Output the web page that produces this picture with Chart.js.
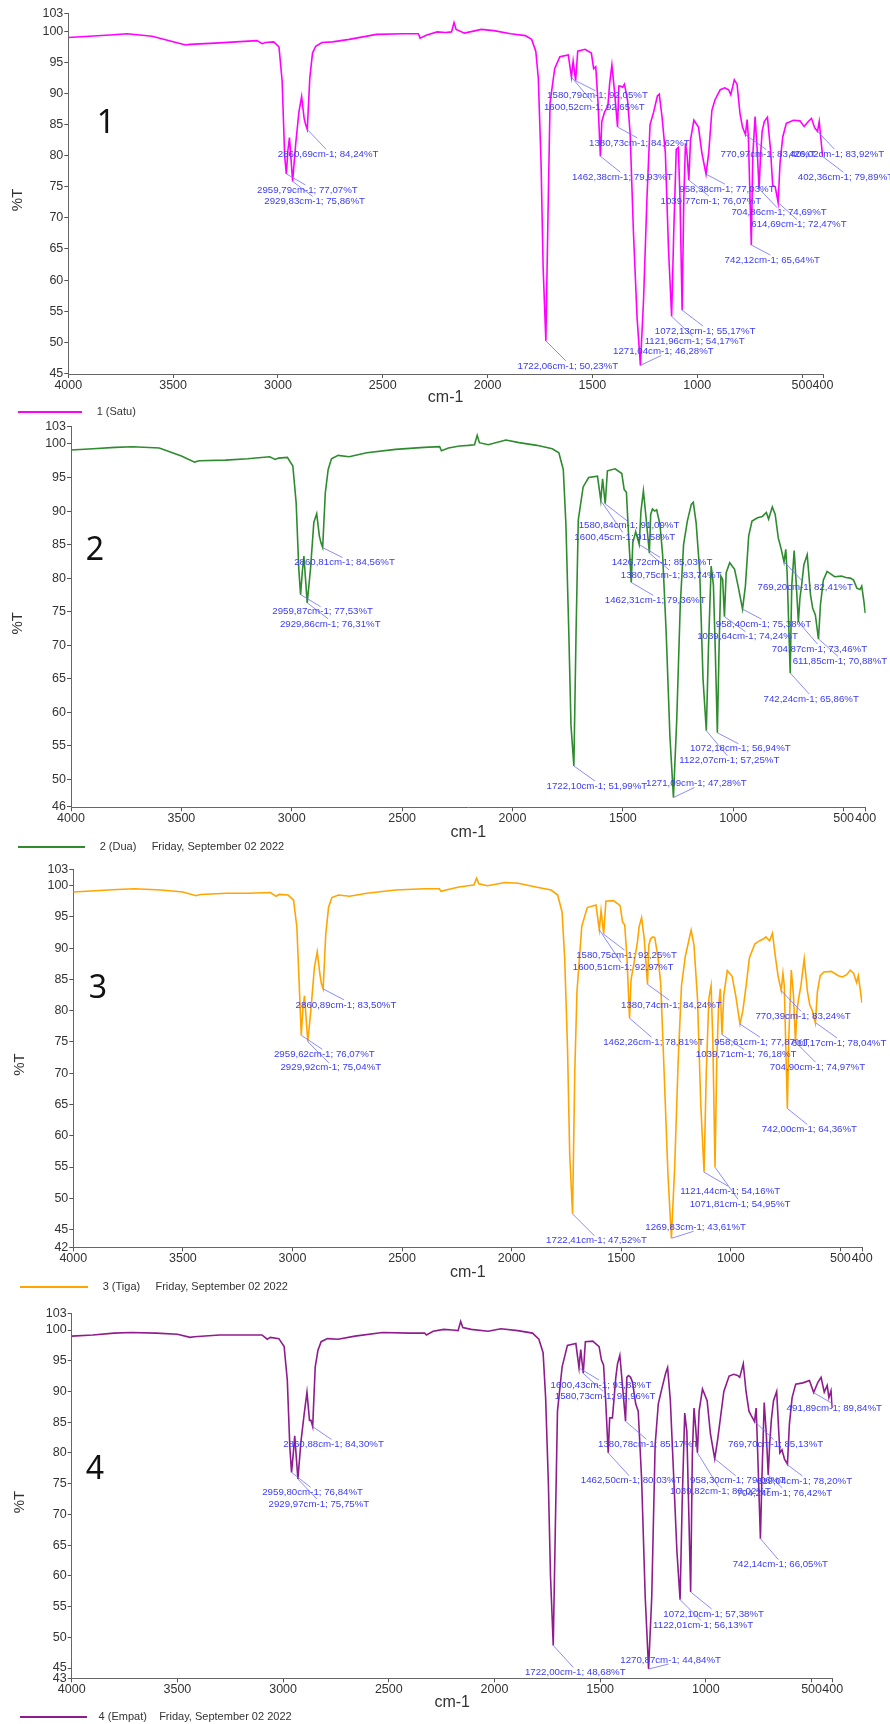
<!DOCTYPE html>
<html lang="id">
<head>
<meta charset="utf-8">
<title>Spektrum FTIR 1-4</title>
<script src="https://cdn.jsdelivr.net/npm/chart.js@4.4.1/dist/chart.umd.min.js"></script>
<style>
  html, body { margin: 0; padding: 0; background: #fff; overflow: hidden; }
  body { position: relative; width: 890px; height: 1724px; }
  canvas { position: absolute; left: 0; }
  .nomor { position: absolute; width: 40px; text-align: center; font-family: 'Noto Sans', sans-serif; font-size: 32px; line-height: 32px; color: #111; }
</style>
</head>
<body>
<canvas id="satu"></canvas>
<canvas id="dua"></canvas>
<canvas id="tiga"></canvas>
<canvas id="empat"></canvas>
<div class="nomor" style="left:86px;top:105px">1</div>
<div class="nomor" style="left:75px;top:532px">2</div>
<div class="nomor" style="left:78px;top:970px">3</div>
<div class="nomor" style="left:75px;top:1451px">4</div>
<script>
// wavenumbers (cm-1), the same grid for all four samples
const wavenumbers = [
  4000, 3900, 3800, 3720, 3600, 3500, 3440, 3420, 3300, 3200,
  3100, 3075, 3060, 3020, 2995, 2980, 2968, 2960, 2952, 2945,
  2930, 2915, 2900, 2887, 2875, 2868, 2860, 2848, 2835, 2820,
  2790, 2740, 2660, 2530, 2400, 2330, 2322, 2290, 2240, 2200,
  2172, 2160, 2150, 2110, 2030, 1970, 1890, 1820, 1790, 1770,
  1758, 1745, 1735, 1722, 1712, 1702, 1680, 1655, 1615, 1600,
  1592, 1580, 1570, 1535, 1505, 1494, 1484, 1474, 1462, 1455,
  1442, 1426, 1418, 1407, 1395, 1380, 1374, 1366, 1356, 1347,
  1332, 1320, 1304, 1287, 1271, 1256, 1240, 1225, 1208, 1190,
  1181, 1168, 1152, 1137, 1122, 1112, 1100, 1090, 1082, 1072,
  1064, 1056, 1048, 1040, 1032, 1016, 994, 978, 958, 945,
  930, 915, 890, 868, 850, 840, 823, 810, 796, 784,
  770, 762, 756, 742, 735, 724, 714, 705, 698, 690,
  680, 665, 650, 640, 628, 614, 605, 592, 575, 541,
  510, 490, 470, 455, 440, 426, 418, 408, 402
]

// %T, sample 1 (Satu)
const satu = [
  99.0, 99.2, 99.4, 99.6, 99.2, 98.3, 97.8, 97.9, 98.1, 98.3,
  98.5, 98.0, 98.2, 98.3, 97.5, 92.0, 80.0, 77.07, 81.0, 82.9,
  75.86, 82.0, 87.0, 89.5, 86.0, 85.0, 84.24, 92.5, 96.5, 97.6,
  98.2, 98.3, 98.7, 99.5, 99.6, 99.6, 98.9, 99.4, 99.9, 99.8,
  99.9, 101.4, 100.3, 99.7, 100.3, 100.1, 99.6, 99.3, 98.7, 96.8,
  92.5, 79.0, 62.0, 50.23, 70.0, 88.5, 94.0, 95.9, 96.2, 92.65,
  95.2, 92.05, 96.8, 97.1, 96.5, 94.0, 94.3, 89.0, 79.93, 85.5,
  87.0, 88.0, 91.5, 94.6, 90.5, 84.62, 91.2, 91.2, 91.0, 91.5,
  88.8, 83.6, 67.5, 54.0, 46.28, 56.8, 72.9, 85.0, 87.0, 89.6,
  89.9, 86.3, 80.5, 65.0, 54.17, 67.6, 81.0, 81.3, 72.9, 55.17,
  72.9, 82.0, 80.0, 76.07, 82.5, 85.7, 84.6, 80.5, 77.03, 80.5,
  87.3, 89.0, 90.6, 90.9, 90.6, 89.8, 92.2, 91.5, 86.8, 84.6,
  83.4, 85.8, 83.0, 65.64, 80.0, 86.3, 81.0, 74.69, 80.0, 84.0,
  85.5, 86.2, 80.8, 75.2, 75.0, 72.47, 78.8, 83.0, 85.2, 85.7,
  85.6, 84.7, 85.5, 86.0, 84.5, 83.92, 85.5, 82.0, 79.89
]

// %T, sample 2 (Dua)
const dua = [
  99.1, 99.3, 99.5, 99.6, 99.4, 98.2, 97.3, 97.5, 97.6, 97.8,
  98.1, 97.7, 97.9, 98.0, 96.7, 91.2, 81.3, 77.53, 81.0, 83.3,
  76.31, 81.4, 88.3, 89.6, 86.3, 85.3, 84.56, 92.7, 96.2, 97.8,
  98.3, 98.1, 98.7, 99.2, 99.5, 99.6, 99.0, 99.4, 99.7, 99.8,
  99.9, 101.3, 100.2, 99.9, 100.6, 100.2, 99.8, 99.3, 98.7, 96.2,
  88.0, 72.0, 58.0, 51.99, 72.0, 88.7, 93.6, 95.0, 95.2, 91.58,
  94.8, 91.09, 96.0, 96.3, 95.6, 93.2, 92.8, 86.3, 79.36, 85.3,
  86.9, 85.03, 90.0, 93.0, 89.0, 83.74, 89.5, 90.3, 90.0, 90.2,
  88.0, 83.5, 72.0, 56.5, 47.28, 58.9, 76.0, 85.0, 88.5, 91.0,
  91.3, 88.2, 81.0, 65.0, 57.25, 70.0, 81.8, 79.0, 70.0, 56.94,
  70.0, 80.3, 79.8, 74.24, 80.8, 82.3, 81.3, 78.8, 75.38, 78.8,
  86.3, 88.5, 89.0, 89.2, 89.8, 88.8, 90.6, 89.5, 86.0, 84.5,
  82.41, 84.3, 80.8, 65.86, 78.8, 84.1, 78.8, 73.46, 77.0, 79.0,
  82.0, 83.5, 77.5, 75.5, 74.5, 70.88, 76.0, 79.7, 81.0, 80.2,
  80.3, 80.1, 80.0, 79.7, 78.5, 78.3, 78.8, 76.5, 74.8
]

// %T, sample 3 (Tiga)
const tiga = [
  99.0, 99.2, 99.4, 99.5, 99.3, 99.0, 98.4, 98.6, 98.8, 98.8,
  98.9, 98.3, 98.6, 98.5, 97.7, 93.4, 83.2, 76.07, 80.5, 82.4,
  75.04, 80.5, 86.9, 89.4, 85.9, 84.3, 83.50, 92.3, 96.6, 98.1,
  98.5, 98.3, 98.8, 99.3, 99.5, 99.5, 99.1, 99.4, 99.8, 100.0,
  100.1, 101.2, 100.3, 100.0, 100.5, 100.4, 99.8, 99.3, 98.5, 95.8,
  88.5, 74.0, 57.0, 47.52, 70.0, 83.0, 93.5, 96.5, 96.9, 92.97,
  96.0, 92.25, 97.5, 97.6, 96.8, 94.2, 93.7, 88.6, 78.81, 85.0,
  87.5, 91.0, 93.5, 94.9, 91.5, 84.24, 90.5, 91.5, 91.8, 91.7,
  88.5, 84.5, 70.0, 54.0, 43.61, 55.0, 72.0, 84.0, 88.6, 91.5,
  92.9, 90.5, 82.0, 65.0, 54.16, 70.0, 82.0, 84.0, 75.3, 54.95,
  72.0, 80.5, 83.5, 76.18, 82.5, 86.4, 85.5, 82.5, 77.87, 80.0,
  84.0, 88.5, 90.7, 91.2, 91.5, 91.8, 91.2, 92.4, 88.5, 85.5,
  83.24, 86.0, 84.0, 64.36, 76.0, 86.5, 82.5, 74.97, 80.1, 82.0,
  84.0, 88.3, 83.0, 81.0, 80.0, 78.04, 83.0, 85.6, 86.2, 86.3,
  85.6, 85.4, 85.8, 86.5, 86.0, 84.5, 85.6, 83.0, 81.3
]

// %T, sample 4 (Empat)
const empat = [
  99.0, 99.2, 99.5, 99.6, 99.5, 99.3, 98.8, 98.9, 99.2, 99.2,
  99.2, 98.5, 98.8, 98.6, 97.3, 91.8, 80.9, 76.84, 79.8, 82.8,
  75.75, 82.0, 86.4, 89.9, 85.3, 85.3, 84.30, 94.0, 96.7, 98.1,
  98.6, 98.5, 99.0, 99.6, 99.5, 99.5, 99.2, 99.8, 100.1, 100.0,
  99.9, 101.4, 100.4, 100.1, 99.8, 100.2, 99.9, 99.5, 98.5, 96.3,
  89.0, 75.0, 60.0, 48.68, 68.0, 86.8, 94.0, 97.5, 97.8, 93.83,
  96.8, 92.96, 98.1, 98.2, 97.3, 95.1, 94.3, 88.5, 80.03, 85.7,
  85.7, 92.3, 94.5, 95.9, 91.2, 85.17, 92.3, 92.6, 92.3, 91.5,
  88.0, 86.8, 75.8, 56.6, 44.84, 56.6, 81.3, 88.0, 90.5, 93.0,
  93.9, 88.5, 76.0, 64.0, 56.13, 72.0, 86.5, 83.5, 72.0, 57.38,
  79.8, 87.3, 84.0, 80.02, 86.8, 90.4, 88.5, 83.0, 79.06, 82.0,
  86.0, 90.0, 92.5, 92.8, 92.6, 92.3, 94.5, 90.0, 86.8, 86.0,
  85.13, 87.3, 81.3, 66.05, 75.8, 88.2, 83.0, 76.42, 81.5, 85.5,
  88.5, 90.0, 80.0, 80.5, 79.0, 78.2, 84.6, 89.0, 91.2, 91.4,
  91.8, 89.84, 91.5, 92.3, 89.9, 91.0, 89.0, 90.1, 87.3
]

const xTicks = [4000, 3500, 3000, 2500, 2000, 1500, 1000, 500, 400]
const yTicks1 = [45, 50, 55, 60, 65, 70, 75, 80, 85, 90, 95, 100, 103]
const yTicks2 = [46, 50, 55, 60, 65, 70, 75, 80, 85, 90, 95, 100, 103]
const yTicks3 = [42, 45, 50, 55, 60, 65, 70, 75, 80, 85, 90, 95, 100, 103]
const yTicks4 = [43, 45, 50, 55, 60, 65, 70, 75, 80, 85, 90, 95, 100, 103]
// axis ends as drawn (the end ticks are rounded)
const yRange1 = [44.9, 102.89]
const yRange2 = [45.82, 102.58]
const yRange3 = [42.16, 102.62]
const yRange4 = [43.33, 102.72]

const recordDate = 'Friday, September 02 2022'

// marked peaks [cm-1, %T]
const peaks1 = [[2860.69, 84.24], [2959.79, 77.07], [2929.83, 75.86], [1580.79, 92.05], [1600.52, 92.65],
  [1380.73, 84.62], [1462.38, 79.93], [958.38, 77.03], [1039.77, 76.07], [770.97, 83.40], [426.02, 83.92],
  [402.36, 79.89], [704.86, 74.69], [614.69, 72.47], [742.12, 65.64], [1072.13, 55.17], [1121.96, 54.17],
  [1271.04, 46.28], [1722.06, 50.23]]
const peaks2 = [[2860.81, 84.56], [2959.87, 77.53], [2929.86, 76.31], [1580.84, 91.09], [1600.45, 91.58],
  [1426.72, 85.03], [1380.75, 83.74], [1462.31, 79.36], [958.40, 75.38], [1039.64, 74.24], [769.20, 82.41],
  [704.87, 73.46], [611.85, 70.88], [742.24, 65.86], [1072.18, 56.94], [1122.07, 57.25], [1271.09, 47.28],
  [1722.10, 51.99]]
const peaks3 = [[2860.89, 83.50], [2959.62, 76.07], [2929.92, 75.04], [1580.75, 92.25], [1600.51, 92.97],
  [1380.74, 84.24], [1462.26, 78.81], [958.61, 77.87], [1039.71, 76.18], [770.39, 83.24], [611.17, 78.04],
  [704.90, 74.97], [742.00, 64.36], [1121.44, 54.16], [1071.81, 54.95], [1269.83, 43.61], [1722.41, 47.52]]
const peaks4 = [[2860.88, 84.30], [2959.80, 76.84], [2929.97, 75.75], [1600.43, 93.83], [1580.73, 92.96],
  [1380.78, 85.17], [1462.50, 80.03], [958.30, 79.06], [1039.82, 80.02], [769.70, 85.13], [619.04, 78.20],
  [704.24, 76.42], [491.89, 89.84], [742.14, 66.05], [1072.10, 57.38], [1122.01, 56.13], [1270.87, 44.84],
  [1722.00, 48.68]]

// label centre relative to its peak, px
const offsets1 = [[21, 25], [21, 16], [22, 20], [22, 15], [23, 30], [22, 16], [22, 21], [21, 15], [22, 21], [23, 20],
  [19, 23], [23, 21], [20, 24], [21, 22], [21, 15], [23, 21], [23, 25], [23, -14], [22, 25]]
const offsets2 = [[22, 15], [22, 17], [23, 21], [24, 22], [24, 37], [23, 18], [22, 22], [24, 18], [21, 15], [23, 20],
  [21, 25], [21, 27], [21, 22], [21, 26], [23, 16], [23, 30], [23, -14], [23, 20]]
const offsets3 = [[23, 16], [23, 19], [23, 26], [23, 21], [24, 38], [24, 21], [24, 24], [22, 18], [24, 20], [22, 26],
  [23, 20], [22, 25], [22, 21], [26, 19], [25, 37], [24, -11], [24, 27]]
const offsets4 = [[21, 18], [21, 20], [21, 25], [22, 17], [22, 23], [23, 23], [23, 28], [23, 22], [23, 39], [21, 23],
  [18, 17], [16, 18], [21, 16], [20, 26], [23, 22], [23, 26], [22, -9], [22, 27]]

// page boxes of the four plots
const box1 = { top: 0, left: 68.3, right: 823, areaTop: 13.3, areaBottom: 374, legendY: 412, legendX: 18, boxWidth: 64, lead: 3, gap: 0 }
const box2 = { top: 418, left: 71, right: 865.7, areaTop: 426.7, areaBottom: 807.3, legendY: 847, legendX: 18, boxWidth: 67, lead: 3, gap: 5 }
const box3 = { top: 859, left: 73.3, right: 862.3, areaTop: 869.3, areaBottom: 1247.3, legendY: 1287, legendX: 20, boxWidth: 68, lead: 3, gap: 5 }
const box4 = { top: 1303, left: 71.7, right: 832.7, areaTop: 1313.3, areaBottom: 1678.3, legendY: 1717, legendX: 20, boxWidth: 67, lead: 2, gap: 4 }

Chart.defaults.font.family = '"Liberation Sans", Arial, sans-serif'
Chart.defaults.color = '#333'

const fmt = v => v.toFixed(2).replace('.', ',')

// peak markers: leader line + "cm-1; %T" text
const peakLabels = {
  id: 'peakLabels',
  afterDatasetsDraw(chart, args, opts) {
    const { ctx } = chart
    const x = chart.scales.x
    const y = chart.scales.y
    const spots = opts.peaks.map((p, i) => {
      const px = x.getPixelForValue(p[0])
      const py = y.getPixelForValue(p[1])
      const [dx, dy] = opts.offsets[i]
      return { px, py, cx: px + dx, cy: py + dy, up: dy < 0, text: fmt(p[0]) + 'cm-1; ' + fmt(p[1]) + '%T' }
    })
    ctx.save()
    ctx.strokeStyle = 'rgba(110, 110, 255, 0.8)'
    ctx.lineWidth = 1
    spots.forEach(s => {
      ctx.beginPath()
      ctx.moveTo(s.px, s.py)
      ctx.lineTo(s.cx - 2, s.cy + (s.up ? 4 : -5))
      ctx.stroke()
    })
    ctx.font = '9.7px "Liberation Sans", Arial, sans-serif'
    ctx.textAlign = 'center'
    ctx.textBaseline = 'middle'
    ctx.fillStyle = '#3b3bf5'
    spots.forEach(s => ctx.fillText(s.text, s.cx, s.cy))
    ctx.restore()
  }
}

function drawSpectrum(id, values, yTicks, yRange, peaks, offsets, color, name, box) {
  const canvas = document.getElementById(id)
  const axisHeight = box.legendY - 5.5 - box.areaBottom
  const used = box.areaBottom + axisHeight + 21 - box.top
  const height = Math.ceil(used)
  canvas.width = 890
  canvas.height = height
  canvas.style.top = box.top + 'px'

  let legendText = ' '.repeat(box.lead) + name
  if (box.gap) legendText += ' '.repeat(box.gap) + recordDate

  new Chart(canvas, {
    type: 'line',
    data: {
      datasets: [{
        label: name,
        data: wavenumbers.map((w, i) => ({ x: w, y: values[i] })),
        borderColor: color,
        backgroundColor: color,
        borderWidth: 1.6,
        pointRadius: 0,
        tension: 0,
        fill: false
      }]
    },
    options: {
      responsive: false,
      animation: false,
      devicePixelRatio: 1,
      layout: {
        padding: { left: box.legendX, right: 890 - box.right, top: box.areaTop - box.top, bottom: height - used }
      },
      plugins: {
        tooltip: { enabled: false },
        legend: {
          position: 'bottom',
          align: 'start',
          labels: {
            padding: 0,
            boxWidth: box.boxWidth,
            boxHeight: 2,
            font: { size: 11 },
            generateLabels: () => [{
              text: legendText,
              fillStyle: color,
              strokeStyle: color,
              lineWidth: 0,
              fontColor: '#333',
              hidden: false,
              datasetIndex: 0
            }]
          }
        },
        peakLabels: { peaks: peaks, offsets: offsets }
      },
      scales: {
        x: {
          type: 'linear',
          reverse: true,
          min: 400,
          max: 4000,
          afterBuildTicks: s => { s.ticks = xTicks.map(v => ({ value: v })) },
          afterFit: s => { s.height = axisHeight },
          ticks: {
            autoSkip: false, maxRotation: 0, minRotation: 0, padding: 0,
            font: { size: 12.5 }, color: '#333',
            callback: v => String(v)
          },
          grid: { display: true, drawOnChartArea: false, drawTicks: true, tickLength: 4, color: '#555' },
          border: { display: true, color: '#666', width: 1 },
          title: { display: true, text: 'cm-1', font: { size: 16 }, color: '#333', padding: { top: 0, bottom: -1 } }
        },
        y: {
          type: 'linear',
          min: yRange[0],
          max: yRange[1],
          afterBuildTicks: s => {
            s.ticks = yTicks.map(v => ({ value: Math.min(Math.max(v, yRange[0]), yRange[1]) }))
          },
          afterFit: s => { s.width = box.left - box.legendX },
          ticks: {
            autoSkip: false, padding: 1,
            font: { size: 12.5 }, color: '#333',
            callback: (v, i) => String(yTicks[i])
          },
          grid: { display: true, drawOnChartArea: false, drawTicks: true, tickLength: 4, color: '#555' },
          border: { display: true, color: '#666', width: 1 },
          title: { display: true, text: '%T   ', font: { size: 15 }, color: '#333', padding: { top: -9, bottom: 0 } }
        }
      }
    },
    plugins: [peakLabels]
  })
}

drawSpectrum('satu', satu, yTicks1, yRange1, peaks1, offsets1, '#ff00ff', '1 (Satu)', box1)
drawSpectrum('dua', dua, yTicks2, yRange2, peaks2, offsets2, '#2e8b2e', '2 (Dua)', box2)
drawSpectrum('tiga', tiga, yTicks3, yRange3, peaks3, offsets3, '#ffa500', '3 (Tiga)', box3)
drawSpectrum('empat', empat, yTicks4, yRange4, peaks4, offsets4, '#8e1c8e', '4 (Empat)', box4)
</script>
</body>
</html>
